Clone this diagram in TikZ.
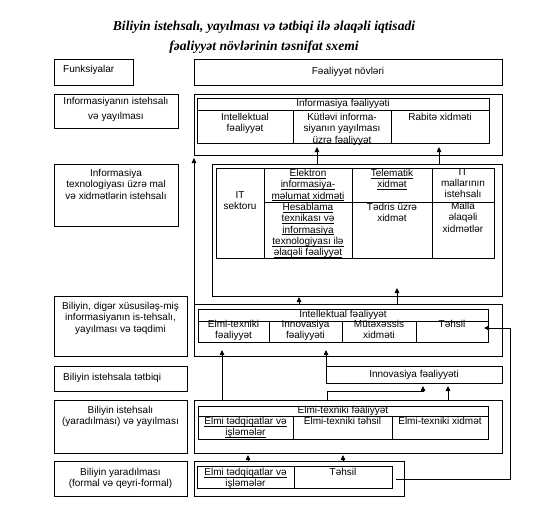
\documentclass[tikz,border=0pt]{standalone}
\usepackage{fontspec}
\setmainfont{Liberation Sans}
\newfontfamily\titlefont{Liberation Serif}
\usetikzlibrary{arrows.meta}
\newcommand\rbox[5]{\node[box,minimum width={(#4-#2)*1pt},minimum height={(#5-#3)*1pt}] (#1) at (#2,#3) {};}
\newcommand\ul[1]{\underline{\raisebox{0pt}[\height][0pt]{#1}}}
\begin{document}
\begin{tikzpicture}[x=1pt,y=-1pt,
  box/.style={draw, line width=0.8pt, inner sep=0pt, outer sep=0pt, anchor=north west},
  t/.style={font=\fontsize{10}{11.3}\selectfont, align=center, inner sep=0pt, anchor=north},
  arr/.style={line width=0.8pt, -{Triangle[length=5pt,width=4.5pt]}},
  ln/.style={line width=0.8pt}]
\useasboundingbox (0,0) rectangle (551,525);
% title
\node[font=\titlefont\bfseries\itshape\fontsize{13.6}{19.5}\selectfont, align=center] (title) at (264,37)
  {Biliyin istehsalı, yayılması və tətbiqi ilə əlaqəli iqtisadi\\fəaliyyət növlərinin təsnifat sxemi};
% left column boxes
\rbox{L1}{54}{59}{133}{85}
\rbox{L2}{54}{94}{178}{128}
\rbox{L3}{54}{164}{178}{226}
\rbox{L4}{54}{296}{187}{356}
\rbox{L5}{54}{366}{187}{391}
\rbox{L6}{54}{400}{187}{453}
\rbox{L7}{54}{461}{187}{496}
% right column boxes
\rbox{R1}{194}{59}{502}{85}
\rbox{B1}{194}{94}{502}{155}
\rbox{B2}{212}{164}{502}{296}
\rbox{B3}{194}{304}{502}{356}
\rbox{B4}{326}{366}{502}{383}
\rbox{B5}{194}{400}{502}{453}
\rbox{B6}{194}{461}{404}{496}
% info table
\rbox{T1h}{197}{98}{489}{110}
\rbox{T1a}{197}{110}{293}{143}
\rbox{T1b}{293}{110}{391}{143}
\rbox{T1c}{391}{110}{489}{143}
% IT table
\rbox{T2a}{216}{168}{264}{258}
\rbox{T2b}{264}{168}{352}{202}
\rbox{T2c}{352}{168}{432}{202}
\rbox{T2d}{432}{168}{494}{202}
\rbox{T2e}{264}{202}{352}{258}
\rbox{T2f}{352}{202}{432}{258}
\rbox{T2g}{432}{202}{494}{258}
% intellektual table
\rbox{T3h}{198}{309}{488}{321}
\rbox{T3a}{198}{321}{269}{342}
\rbox{T3b}{269}{321}{342}{342}
\rbox{T3c}{342}{321}{416}{342}
\rbox{T3d}{416}{321}{488}{342}
% elmi-texniki table
\rbox{T5h}{198}{406}{488}{416}
\rbox{T5a}{198}{416}{293}{439}
\rbox{T5b}{293}{416}{392}{439}
\rbox{T5c}{392}{416}{488}{439}
% bottom table
\rbox{T6a}{197}{466}{294}{488}
\rbox{T6b}{294}{466}{392}{488}
% texts left
\node[t,anchor=west] (tL1) at (63,70) {Funksiyalar};
\node[t] (tL2) at (116,97) {Informasiyanın istehsalı\\[3.5pt]və yayılması};
\node[t] (tL3) at (116,169) {Informasiya\\texnologiyası üzrə mal\\və xidmətlərin istehsalı};
\node[t] (tL4) at (120.5,302) {Biliyin, digər xüsusiləş-miş\\informasiyanın is-tehsalı,\\yayılması və təqdimi};
\node[t,anchor=west] (tL5) at (63,378) {Biliyin istehsala tətbiqi};
\node[t] (tL6) at (120.5,406) {Biliyin istehsalı\\(yaradılması) və yayılması};
\node[t] (tL7) at (120.5,468) {Biliyin yaradılması\\(formal və qeyri-formal)};
% texts right
\node[t,anchor=center] at (R1.center) {Fəaliyyət növləri};
\node[t,anchor=center] at (T1h.center) {Informasiya fəaliyyəti};
\node[t] at ([yshift=-3]T1a.north) {Intellektual\\fəaliyyət};
\node[t] at ([yshift=-3]T1b.north) {Kütləvi informa-\\siyanın yayılması\\üzrə fəaliyyət};
\node[t] at ([yshift=-3]T1c.north) {Rabitə xidməti};
\node[t] at (240,191) {IT\\sektoru};
\node[t] at ([yshift=-1]T2b.north) {\ul{Elektron}\\\ul{informasiya-}\\\ul{məlumat xidməti}};
\node[t] at ([yshift=-1]T2c.north) {\ul{Telematik}\\\ul{xidmət}};
\node[t] at ([yshift=0]T2d.north) {IT\\mallarının\\istehsalı};
\node[t] at ([yshift=-1]T2e.north) {\ul{Hesablama}\\\ul{texnikası və}\\\ul{informasiya}\\\ul{texnologiyası ilə}\\\ul{əlaqəli fəaliyyət}};
\node[t] at ([yshift=-1]T2f.north) {Tədris üzrə\\xidmət};
\node[t] at ([yshift=0]T2g.north) {Malla\\əlaqəli\\xidmətlər};
\node[t,anchor=center] at (T3h.center) {Intellektual fəaliyyət};
\node[t] at ([yshift=1]T3a.north) {Elmi-texniki\\fəaliyyət};
\node[t] at ([yshift=1]T3b.north) {Innovasiya\\fəaliyyəti};
\node[t] at ([yshift=1]T3c.north) {Mütəxəssis\\xidməti};
\node[t] at ([yshift=1]T3d.north) {Təhsil};
\node[t,anchor=center] at (B4.center) {Innovasiya fəaliyyəti};
\node[t,anchor=center] at (T5h.center) {Elmi-texniki fəaliyyət};
\node[t] at ([yshift=-1]T5a.north) {\ul{Elmi tədqiqatlar və}\\\ul{işləmələr}};
\node[t] at ([yshift=-1]T5b.north) {Elmi-texniki təhsil};
\node[t] at ([yshift=-1]T5c.north) {Elmi-texniki xidmət};
\node[t] at ([yshift=-2]T6a.north) {\ul{Elmi tədqiqatlar və}\\\ul{işləmələr}};
\node[t] at ([yshift=-2]T6b.north) {Təhsil};
% arrow ends
\coordinate (e1) at (317,147);
\coordinate (e2) at (439,147);
\coordinate (e3) at (194,158);
\coordinate (e4) at (299,297);
\coordinate (e5) at (397,288);
\coordinate (e6) at (484,328);
\coordinate (s6) at (396,479);
\coordinate (k6) at (510,479);
\coordinate (e7) at (326,350);
\coordinate (e8) at (222,350);
\coordinate (k9) at (327,391);
\coordinate (e9) at (423,386);
\coordinate (e10) at (448,386);
\coordinate (e11) at (248,455);
\coordinate (e12) at (343,455);
% connectors
\draw[arr] (B2.north -| e1) -- (e1);
\draw[arr] (B2.north -| e2) -- (e2);
\draw[arr] (B3.north west) -- (e3);
\draw[arr] (B3.north -| e4) -- (e4);
\draw[arr] (B3.north -| e5) -- (e5);
\draw[arr] (s6) -- (k6) -- (k6 |- e6) -- (e6);
\draw[arr] (B4.north west) -- (e7);
\draw[arr] (B5.north -| e8) -- (e8);
\draw[arr] (B5.north -| k9) -- (k9) -- (k9 -| e9) -- (e9);
\draw[arr] (B5.north -| e10) -- (e10);
\draw[arr] (B6.north -| e11) -- (e11);
\draw[arr] (B6.north -| e12) -- (e12);
\end{tikzpicture}
\end{document}
